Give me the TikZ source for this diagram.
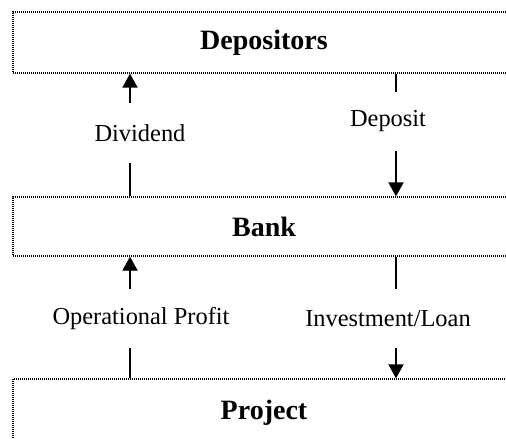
\documentclass[tikz,border=0pt]{standalone}
\usepackage{fontspec}
\setmainfont{Liberation Serif}
\usetikzlibrary{arrows.meta}
\begin{document}
\begin{tikzpicture}[x=0.5pt,y=-0.5pt,
  party/.style={draw, line width=0.7pt, dash pattern=on 0.5pt off 0.5pt,
    minimum width=251pt, inner sep=0pt, font=\fontsize{14}{16}\selectfont\bfseries},
  flowlabel/.style={inner sep=0pt, font=\fontsize{12.2}{14}\selectfont},
  flow/.style={line width=0.7pt},
  flowarrow/.style={line width=0.7pt, -{Triangle[length=7pt,width=7.6pt]}}]
\useasboundingbox (0,0) rectangle (506,438);
% boxes
\node[party, minimum height=30.5pt] (depo) at (264,42.5) {Depositors};
\node[party, minimum height=29.5pt] (bank) at (264,226.5) {Bank};
\node[party, minimum height=40pt] (proj) at (264,419) {\raisebox{9pt}{Project}};
% x positions of the connectors
\coordinate (lx) at (130,0);
\coordinate (rx) at (396,0);
% labels
\node[flowlabel, minimum height=30pt] (div) at (140,133) {Dividend};
\node[flowlabel, minimum height=29pt] (dep) at (388,121.5) {Deposit};
\node[flowlabel, minimum height=29pt] (op) at (141,318.5) {Operational Profit};
\node[flowlabel, minimum height=29pt] (inv) at (388,318.5) {Investment/Loan};
% connectors
\draw[flow] (bank.north -| lx) -- (div.south -| lx);
\draw[flowarrow] (div.north -| lx) -- (depo.south -| lx);
\draw[flow] (depo.south -| rx) -- (dep.north -| rx);
\draw[flowarrow] (dep.south -| rx) -- (bank.north -| rx);
\draw[flow] (proj.north -| lx) -- (op.south -| lx);
\draw[flowarrow] (op.north -| lx) -- (bank.south -| lx);
\draw[flow] (bank.south -| rx) -- (inv.north -| rx);
\draw[flowarrow] (inv.south -| rx) -- (proj.north -| rx);
\end{tikzpicture}
\end{document}
